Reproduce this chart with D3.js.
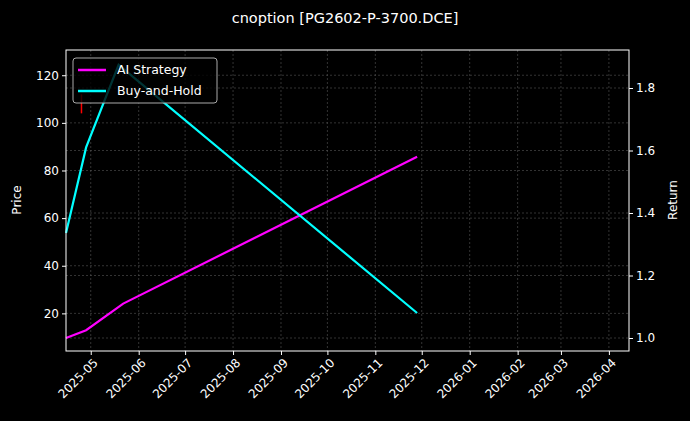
<!DOCTYPE html><html><head><meta charset="utf-8"><script src="https://cdn.jsdelivr.net/npm/d3@7"></script>
<style>body{margin:0;background:#000}text{font-family:"DejaVu Sans",sans-serif;fill:#fff}</style></head><body><svg id="c" width="690" height="421"></svg>
<script>
const aiDates=["2025-04-15","2025-04-28","2025-05-22","2025-11-28"];
const aiValues=[1.0,1.025,1.11,1.58];
const bhDates=["2025-04-15","2025-04-28","2025-05-19","2025-11-28"];
const bhValues=[1.336,1.61,1.874,1.08];
const signalDate="2025-04-25", signalLow=104, signalHigh=112;
const priceTicks=[20,40,60,80,100,120];
const returnTicks=[1.0,1.2,1.4,1.6,1.8];
const p=d3.timeParse("%Y-%m-%d");
const svg=d3.select("#c");
const L=66,R=629,T=50,B=351;
const x=d3.scaleTime().domain([p("2025-04-15"),p("2026-04-14")]).range([L,R]);
const yP=d3.scaleLinear().domain([4.2,130.6]).range([B,T]);
const yR=d3.scaleLinear().domain([1.0,1.8]).range([338,88]);
const g=svg.append("g");
const months=d3.timeMonth.range(p("2025-05-01"),p("2026-04-15"));
g.selectAll(".vx").data(months).join("line").attr("x1",d=>x(d)).attr("x2",d=>x(d)).attr("y1",T).attr("y2",B).attr("stroke","#555").attr("stroke-dasharray","2,2").attr("stroke-width",0.6);
g.selectAll(".hp").data(priceTicks).join("line").attr("x1",L).attr("x2",R).attr("y1",d=>yP(d)).attr("y2",d=>yP(d)).attr("stroke","#555").attr("stroke-dasharray","2,2").attr("stroke-width",0.6);
g.selectAll(".hr").data(returnTicks).join("line").attr("x1",L).attr("x2",R).attr("y1",d=>yR(d)).attr("y2",d=>yR(d)).attr("stroke","#555").attr("stroke-dasharray","2,2").attr("stroke-width",0.6);
svg.append("line").attr("x1",x(p(signalDate))).attr("x2",x(p(signalDate))).attr("y1",yP(signalLow)).attr("y2",yP(signalHigh)).attr("stroke","#ff0000").attr("stroke-width",1.5);
const line=d3.line().x(d=>x(p(d[0]))).y(d=>yR(d[1]));
svg.append("path").datum(aiDates.map((d,i)=>[d,aiValues[i]])).attr("d",line).attr("fill","none").attr("stroke","#ff00ff").attr("stroke-width",2.2);
svg.append("path").datum(bhDates.map((d,i)=>[d,bhValues[i]])).attr("d",line).attr("fill","none").attr("stroke","#00ffff").attr("stroke-width",2.2);
svg.append("rect").attr("x",L).attr("y",T).attr("width",R-L).attr("height",B-T).attr("fill","none").attr("stroke","#fff").attr("stroke-width",1);
const ax=svg.append("g").attr("transform",`translate(0,${B})`).call(d3.axisBottom(x).tickValues(months).tickFormat(d3.timeFormat("%Y-%m")).tickSize(4).tickSizeOuter(0));
ax.selectAll("text").attr("transform","rotate(-45)").attr("text-anchor","end").attr("dx","-0.3em").attr("dy","0.6em").style("font-size","12px");
svg.append("g").attr("transform",`translate(${L},0)`).call(d3.axisLeft(yP).tickValues(priceTicks).tickSize(4).tickSizeOuter(0)).selectAll("text").style("font-size","12px");
svg.append("g").attr("transform",`translate(${R},0)`).call(d3.axisRight(yR).tickValues(returnTicks).tickFormat(d3.format(".1f")).tickSize(4).tickSizeOuter(0)).selectAll("text").style("font-size","12px");
svg.selectAll(".domain").remove();
svg.selectAll(".tick line").attr("stroke","#fff");
svg.selectAll(".tick text").attr("fill","#fff");
svg.append("text").attr("x",345).attr("y",23).attr("text-anchor","middle").style("font-size","14.5px").text("cnoption [PG2602-P-3700.DCE]");
svg.append("text").attr("transform","translate(21,200) rotate(-90)").attr("text-anchor","middle").style("font-size","12px").text("Price");
svg.append("text").attr("transform","translate(677,200) rotate(-90)").attr("text-anchor","middle").style("font-size","12px").text("Return");
const lg=svg.append("g");
lg.append("rect").attr("x",73).attr("y",58).attr("width",144).attr("height",45).attr("rx",3).attr("fill","#000").attr("fill-opacity",0.8).attr("stroke","#aaa");
[["AI Strategy","#ff00ff"],["Buy-and-Hold","#00ffff"]].forEach((d,i)=>{
 lg.append("line").attr("x1",78).attr("x2",106).attr("y1",70+i*21).attr("y2",70+i*21).attr("stroke",d[1]).attr("stroke-width",2.5);
 lg.append("text").attr("x",117).attr("y",74+i*21).style("font-size","12.5px").text(d[0]);
});
</script></body></html>
